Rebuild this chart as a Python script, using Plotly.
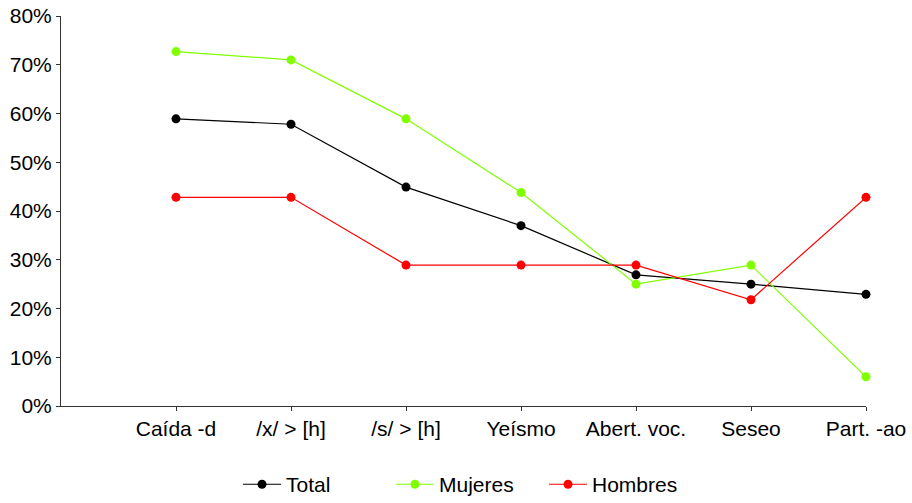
import plotly.graph_objects as go

categories = ["Caída -d", "/x/ > [h]", "/s/ > [h]", "Yeísmo", "Abert. voc.", "Seseo", "Part. -ao"]
total = [58.9, 57.8, 44.9, 37.0, 26.9, 25.0, 22.9]
mujeres = [72.7, 71.0, 58.9, 43.8, 25.0, 28.9, 6.0]
hombres = [42.8, 42.8, 28.9, 28.9, 28.9, 21.8, 42.8]
y_ticks = [0, 10, 20, 30, 40, 50, 60, 70, 80]
y_labels = ["0%", "10%", "20%", "30%", "40%", "50%", "60%", "70%", "80%"]

series = [("Total", total, "#000000"), ("Mujeres", mujeres, "#80FF00"), ("Hombres", hombres, "#FF0000")]

x = list(range(len(categories)))
fig = go.Figure()
for name, vals, col in series:
    fig.add_trace(go.Scatter(
        x=x, y=vals, name=name, mode="lines+markers",
        line=dict(color=col, width=1.2),
        marker=dict(color=col, size=9),
        cliponaxis=False,
    ))

font = dict(family="Liberation Sans, Arial, sans-serif", size=21, color="#000000")
fig.update_layout(
    width=912, height=520,
    margin=dict(l=61, r=46, t=16, b=114),
    paper_bgcolor="white", plot_bgcolor="white",
    font=font,
    showlegend=True,
    legend=dict(orientation="h", xanchor="center", x=0.505, yanchor="middle", y=-0.2015,
                entrywidth=100, entrywidthmode="pixels", itemwidth=38, font=font),
    xaxis=dict(range=[-1, 6], tickvals=x, ticktext=categories, automargin=False,
               ticklabeloverflow="allow",
               showgrid=False, zeroline=False, showline=True, linecolor="#333333", linewidth=1,
               ticks="outside", ticklen=4, tickcolor="#333333", tickfont=font),
    yaxis=dict(range=[0, 80], tickvals=y_ticks, ticktext=y_labels, automargin=False,
               ticklabeloverflow="allow",
               showgrid=False, zeroline=False, showline=True, linecolor="#333333", linewidth=1,
               ticks="outside", ticklen=4, tickcolor="#333333", tickfont=font),
)
fig.write_html(
    "out.html",
    config={"displayModeBar": False},
    post_script="document.body.style.margin='0';document.body.style.overflow='hidden';document.documentElement.style.overflow='hidden';",
)
